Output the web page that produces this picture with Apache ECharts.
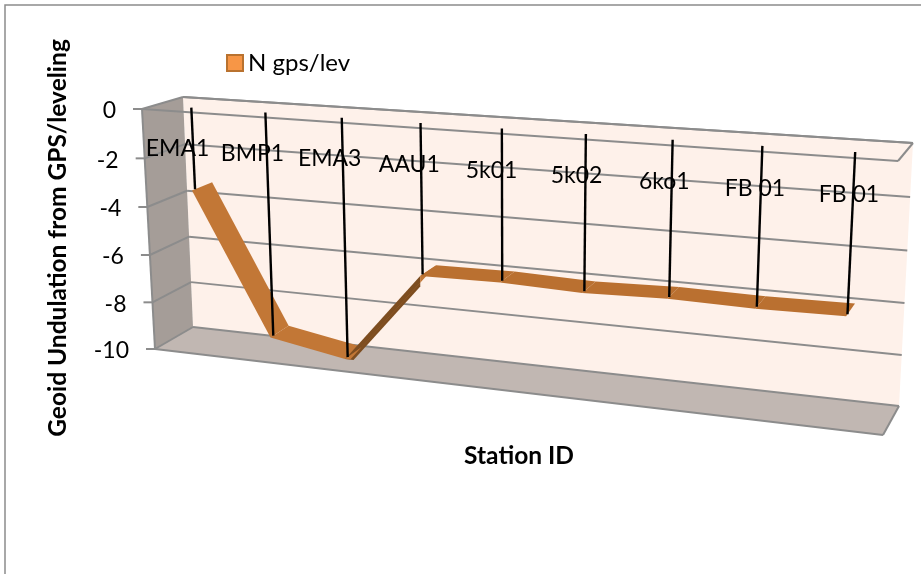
<!DOCTYPE html>
<html>
<head>
<meta charset="utf-8">
<style>html,body{margin:0;padding:0;background:#fff}#chart{width:921px;height:574px}</style>
<script src="https://cdn.jsdelivr.net/npm/echarts@6/dist/echarts.min.js"></script>
</head>
<body>
<div id="chart"></div>
<script>
// Geoid undulation per station
const stations = ['EMA1', 'BMP1', 'EMA3', 'AAU1', '5k01', '5k02', '6ko1', 'FB 01', 'FB 01'];
const undulation = [-3.35, -9.2, -9.75, -6.0, -5.95, -6.05, -5.95, -6.0, -5.95];
const yTicks = [0, -2, -4, -6, -8, -10];
const seriesName = 'N gps/lev';
const yTitle = 'Geoid Undulation from GPS/leveling';
const xTitle = 'Station ID';

// Camera of the 3D box: where the front and back faces land on screen
const frontFace = [[142, 109], [898, 161], [883, 435], [155, 349]];
const backFace = [[183, 97], [913, 143], [899, 406], [193, 327]];
const ribbonDepth = [0.24, 0.76];
const dropDepth = 0.32;
const FONT = 'Lato';

function homography(q) {
  const [[x0, y0], [x1, y1], [x2, y2], [x3, y3]] = q;
  const dx1 = x1 - x2, dx2 = x3 - x2, sx = x0 - x1 + x2 - x3;
  const dy1 = y1 - y2, dy2 = y3 - y2, sy = y0 - y1 + y2 - y3;
  const den = dx1 * dy2 - dx2 * dy1;
  const g = (sx * dy2 - dx2 * sy) / den, h = (dx1 * sy - sx * dy1) / den;
  const a = x1 - x0 + g * x1, b = x3 - x0 + h * x3;
  const d = y1 - y0 + g * y1, e = y3 - y0 + h * y3;
  return (u, w) => {
    const k = g * u + h * w + 1;
    return [(a * u + b * w + x0) / k, (d * u + e * w + y0) / k];
  };
}
const front = homography(frontFace);
const back = homography(backFace);

// Takes a data point through the cartesian scales, then into the 3D box
function project(api, params, x, v, depth) {
  const c = api.coord([x, v]);
  const s = params.coordSys;
  const u = (c[0] - s.x) / s.width, w = (c[1] - s.y) / s.height;
  const f = front(u, w), b = back(u, w);
  return [f[0] + (b[0] - f[0]) * depth, f[1] + (b[1] - f[1]) * depth];
}
const XMIN = -0.5, XMAX = stations.length - 0.5, YMIN = -10, YMAX = 0;
const lineStyle = (stroke, lineWidth) => ({ stroke, lineWidth, fill: null });
function seg(a, b, stroke, w) {
  return { type: 'line', shape: { x1: a[0], y1: a[1], x2: b[0], y2: b[1] }, style: lineStyle(stroke, w) };
}
function poly(points, fill) {
  return { type: 'polygon', shape: { points }, style: { fill } };
}
const GRID = '#8c8c8c';

const option = {
  animation: false,
  backgroundColor: '#fff',
  legend: {
    left: 221, top: 46, itemWidth: 16, itemHeight: 16, itemGap: 6,
    icon: 'rect',
    textStyle: { fontFamily: FONT, fontSize: 24, color: '#000' },
    data: [seriesName]
  },
  grid: { left: 142, top: 109, width: 756, height: 326 },
  xAxis: { type: 'value', min: XMIN, max: XMAX, show: false },
  yAxis: { type: 'value', min: YMIN, max: YMAX, interval: 2, show: false },
  graphic: [
    { type: 'rect', silent: true, z: 0, shape: { x: 5, y: 5, width: 1000, height: 1000 }, style: { fill: 'none', stroke: '#8c8c8c', lineWidth: 1.5 } },
    { type: 'text', z: 50, x: 58, y: 238, rotation: Math.PI / 2, style: { text: yTitle, fontFamily: FONT, fontWeight: 'bold', fontSize: 24.5, fill: '#000', align: 'center', verticalAlign: 'middle' } },
    { type: 'text', z: 50, x: 519, y: 456, style: { text: xTitle, fontFamily: FONT, fontWeight: 'bold', fontSize: 24.5, fill: '#000', align: 'center', verticalAlign: 'middle' } }
  ],
  series: [
    { // box walls and floor
      type: 'custom', silent: true, z: 1, data: [[0]],
      renderItem(params, api) {
        const P = (x, v, d) => project(api, params, x, v, d);
        return { type: 'group', children: [
          poly([P(XMIN, YMAX, 1), P(XMAX, YMAX, 1), P(XMAX, YMIN, 1), P(XMIN, YMIN, 1)], '#fef1ea'),
          poly([P(XMIN, YMAX, 0), P(XMIN, YMAX, 1), P(XMIN, YMIN, 1), P(XMIN, YMIN, 0)], '#a59d98'),
          poly([P(XMIN, YMIN, 0), P(XMIN, YMIN, 1), P(XMAX, YMIN, 1), P(XMAX, YMIN, 0)], '#c1b7b2'),
          seg(P(XMIN, YMAX, 0), P(XMIN, YMIN, 0), GRID, 2),
          seg(P(XMIN, YMAX, 1), P(XMAX, YMAX, 1), GRID, 2),
          seg(P(XMAX, YMAX, 1), P(XMAX, YMAX, 0), GRID, 2),
          seg(P(XMAX, YMIN, 1), P(XMAX, YMIN, 0), GRID, 2),
          seg(P(XMIN, YMIN, 0), P(XMAX, YMIN, 0), GRID, 2)
        ] };
      }
    },
    { // horizontal gridlines, ticks and value labels
      type: 'custom', silent: true, z: 2, data: yTicks.map(v => [v]),
      renderItem(params, api) {
        const v = api.value(0);
        const P = (x, val, d) => project(api, params, x, val, d);
        const a = P(XMIN, v, 0), b = P(XMIN, v, 1), c = P(XMAX, v, 1);
        const kids = [
          seg(a, b, GRID, 2),
          seg(b, c, GRID, 2),
          seg([a[0] - 9, a[1]], a, GRID, 2),
          { type: 'text', style: { x: a[0] - 26, y: a[1] + 2, text: String(v), fontFamily: FONT, fontSize: 23, fill: '#000', align: 'right', verticalAlign: 'middle' } }
        ];
        if (v === YMAX) kids.push(seg(a, P(XMAX, v, 0), GRID, 2));
        return { type: 'group', children: kids };
      }
    },
    { // the 3D ribbon, one quad per pair of stations
      type: 'custom', name: seriesName, silent: true, z: 3,
      itemStyle: { color: '#f79646', borderColor: '#b9722f', borderWidth: 1.5 },
      data: undulation.slice(0, -1).map((v, i) => [i, v, undulation[i + 1]]),
      renderItem(params, api) {
        const i = api.value(0), v0 = api.value(1), v1 = api.value(2);
        const P = (x, val, d) => project(api, params, x, val, d);
        const [d0, d1] = ribbonDepth;
        const flat = Math.abs(v1 - v0) < 1;
        const fill = flat && i > 2 ? '#ba7030' : '#c27736';
        if (v1 <= v0 + 1) {
          return poly([P(i, v0, d0), P(i, v0, d1), P(i + 1, v1, d1), P(i + 1, v1, d0)], fill);
        }
        // Rising segments show a lit lip and a dark side face below the front edge;
        // both taper into the low corner so they stay inside the ribbon's footprint.
        const skirt = (drop) => {
          const t = drop / (v1 - v0);
          return [P(i + t, v0 + (v1 - v0) * t - drop, d0), P(i + 1, v1 - drop, d0)];
        };
        const dark = skirt(0.42), lip = skirt(0.26);
        const side = poly([P(i, v0, d0), dark[0], dark[1], P(i + 1, v1, d0)], '#7d4d20');
        const top = poly([P(i, v0, d0), lip[0], lip[1], P(i + 1, v1, d0), P(i + 1, v1, d1), P(i, v0, d1)], fill);
        return { type: 'group', children: [side, top] };
      }
    },
    { // black drop lines with station names
      type: 'custom', silent: true, z: 4,
      data: undulation.map((v, i) => [i, v]),
      renderItem(params, api) {
        const i = api.value(0), v = api.value(1);
        const P = (x, val, d) => project(api, params, x, val, d);
        const l = P(i, YMAX, 0);
        return { type: 'group', children: [
          seg(P(i, YMAX, dropDepth), P(i, v, dropDepth), '#000', 2.4),
          { type: 'text', style: { x: l[0] - 1, y: l[1] + 37, text: stations[i], fontFamily: FONT, fontSize: 23, fill: '#000', align: 'center', verticalAlign: 'middle' } }
        ] };
      }
    }
  ]
};
echarts.init(document.getElementById('chart'), null, { renderer: 'canvas' }).setOption(option);
</script>
</body>
</html>
